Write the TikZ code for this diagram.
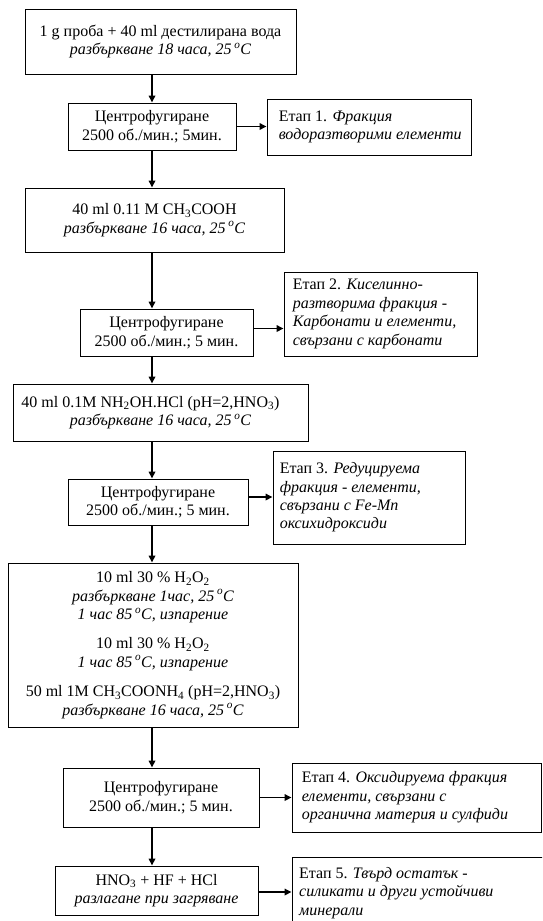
\documentclass[tikz,border=0pt]{standalone}
\usepackage{fontspec}
\setmainfont{Liberation Serif}
\usetikzlibrary{arrows.meta}
\newcommand\diagfont{\fontsize{16}{18.4}\selectfont}
\newcommand\degC{\,\textsuperscript{o}C}
% name, x1, y1, x2, y2, text  (pixel coordinates, y downward)
\newcommand\cbox[6]{\node[box, minimum width={#4-#2}, minimum height={#5-#3}] (#1) at ({(#2+#4)/2},{(#3+#5)/2}) {#6};}
\begin{document}
\begin{tikzpicture}[x=1pt,y=-1pt,
  box/.style={draw, line width=0.9pt, inner sep=0pt, align=center, font=\diagfont},
  etext/.style={anchor=west, inner sep=0pt, align=left, font=\diagfont},
  arr/.style={line width=1.6pt, -{Triangle[length=7pt,width=6.5pt]}}]
\useasboundingbox (0,0) rectangle (542,921);
\clip (0,0) rectangle (542,921);
\coordinate (axis) at (152,0);

\cbox{b1}{25}{9}{296}{74}{1 g проба + 40 ml дестилирана вода\\ \textit{разбъркване 18 часа, 25\degC}}
\cbox{c1}{68}{103}{236}{150}{Центрофугиране\\2500 об./мин.; 5мин.}
\cbox{e1}{267}{99}{471}{155}{}
\node[etext] (e1t) at ([xshift=12pt]e1.west) {Етап 1. \textit{Фракция}\\\textit{водоразтворими елементи}};

\cbox{b3}{25}{188}{284}{252}{40 ml 0.11 M CH\textsubscript{3}COOH\\\textit{разбъркване 16 часа, 25\degC}}
\cbox{c2}{80}{309}{253}{356}{Центрофугиране\\2500 об./мин.; 5 мин.}
\cbox{e2}{284}{272}{477}{356}{}
\node[etext] (e2t) at ([xshift=9pt]e2.west) {Етап 2. \textit{Киселинно-}\\\textit{разтворима фракция -}\\\textit{Карбонати и елементи,}\\\textit{свързани с карбонати}};

\cbox{b5}{13}{384}{308}{441}{40 ml 0.1M NH\textsubscript{2}OH.HCl (pH=2,HNO\textsubscript{3})\hspace*{20pt}\\\textit{разбъркване 16 часа, 25\degC}}
\cbox{c3}{68}{479}{248}{525}{Центрофугиране\\2500 об./мин.; 5 мин.}
\cbox{e3}{273}{451}{465}{544}{}
\node[etext] (e3t) at ([xshift=7pt]e3.west) {Етап 3. \textit{Редуцируема}\\\textit{фракция - елементи,}\\\textit{свързани с Fe-Mn}\\\textit{оксихидроксиди}};

\cbox{b7}{8}{563}{298}{727}{10 ml 30 \% H\textsubscript{2}O\textsubscript{2}\\\textit{разбъркване 1час, 25\degC}\\\textit{1 час 85\degC, изпарение}\\[11pt]10 ml 30 \% H\textsubscript{2}O\textsubscript{2}\\\textit{1 час 85\degC, изпарение}\\[11pt]50 ml 1M CH\textsubscript{3}COONH\textsubscript{4} (pH=2,HNO\textsubscript{3})\\\textit{разбъркване 16 часа, 25\degC}}
\cbox{c4}{63}{768}{259}{827}{Центрофугиране\\2500 об./мин.; 5 мин.}
\cbox{e4}{292}{763}{541}{832}{}
\node[etext] (e4t) at ([xshift=10pt]e4.west) {Етап 4. \textit{Оксидируема фракция}\\\textit{елементи, свързани с}\\\textit{органична материя и сулфиди}};

\cbox{b9}{55}{866}{258}{915}{HNO\textsubscript{3} + HF + HCl\\\textit{разлагане при загряване}}
\cbox{e5}{292}{857}{560}{960}{}
\node[etext] (e5t) at (299,893) {Етап 5. \textit{Твърд остатък -}\\\textit{силикати и други устойчиви}\\\textit{минерали}};

\draw[arr] (b1.south -| axis) -- (c1.north -| axis);
\draw[arr] (c1.south -| axis) -- (b3.north -| axis);
\draw[arr] (b3.south -| axis) -- (c2.north -| axis);
\draw[arr] (c2.south -| axis) -- (b5.north -| axis);
\draw[arr] (b5.south -| axis) -- (c3.north -| axis);
\draw[arr] (c3.south -| axis) -- (b7.north -| axis);
\draw[arr] (b7.south -| axis) -- (c4.north -| axis);
\draw[arr] (c4.south -| axis) -- (b9.north -| axis);

\draw[arr] (c1.east) -- (c1.east -| e1.west);
\draw[arr] ([yshift=4pt]c2.east) -- ([yshift=4pt]c2.east -| e2.west);
\draw[arr] ([yshift=5pt]c3.east) -- ([yshift=5pt]c3.east -| e3.west);
\draw[arr] (c4.east) -- (c4.east -| e4.west);
\draw[arr] ([yshift=-1.5pt]b9.east) -- ([yshift=-1.5pt]b9.east -| e5.west);
\end{tikzpicture}
\end{document}
